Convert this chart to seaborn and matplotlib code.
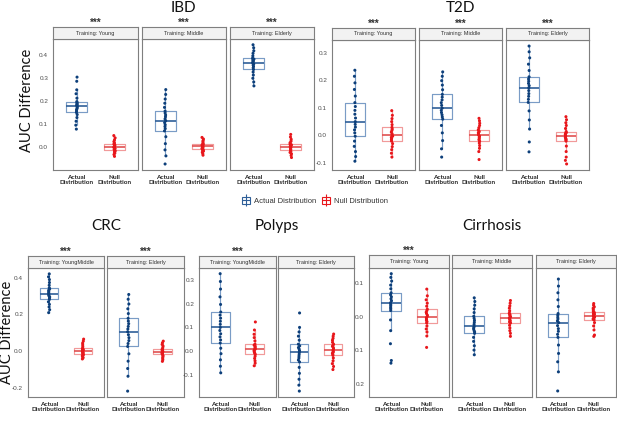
import pandas as pd
import seaborn as sns
import matplotlib.pyplot as plt
from matplotlib.patches import Patch
from matplotlib.lines import Line2D

sns.set_style("white")
plt.rcParams['font.family'] = ['Liberation Sans', 'DejaVu Sans']

# ---- data (AUC difference values) ----
ibd_young_actual = [0.078, 0.095, 0.112, 0.128, 0.141, 0.150, 0.156, 0.162, 0.167, 0.172, 0.177,
                    0.181, 0.185, 0.189, 0.193, 0.197, 0.212, 0.231, 0.248, 0.285, 0.303]
ibd_young_null = [-0.040, -0.032, -0.026, -0.021, -0.017, -0.013, -0.010, -0.007, -0.005, -0.002, 0.000,
                  0.003, 0.005, 0.008, 0.010, 0.013, 0.018, 0.024, 0.031, 0.040, 0.050]
ibd_middle_actual = [-0.073, -0.038, -0.012, 0.015, 0.045, 0.070, 0.080, 0.089, 0.097, 0.106, 0.114,
                     0.122, 0.131, 0.139, 0.148, 0.156, 0.172, 0.190, 0.208, 0.228, 0.249]
ibd_middle_null = [-0.035, -0.028, -0.022, -0.017, -0.013, -0.010, -0.007, -0.004, -0.001, 0.002, 0.004,
                   0.006, 0.008, 0.010, 0.011, 0.013, 0.018, 0.024, 0.029, 0.035, 0.042]
ibd_elderly_actual = [0.265, 0.282, 0.298, 0.312, 0.325, 0.336, 0.343, 0.349, 0.355, 0.360, 0.365,
                      0.369, 0.373, 0.377, 0.381, 0.385, 0.395, 0.406, 0.417, 0.430, 0.443]
ibd_elderly_null = [-0.045, -0.036, -0.029, -0.023, -0.018, -0.013, -0.010, -0.007, -0.004, -0.002, 0.000,
                    0.003, 0.005, 0.008, 0.010, 0.013, 0.019, 0.026, 0.034, 0.044, 0.055]

t2d_young_actual = [-0.095, -0.078, -0.060, -0.041, -0.022, -0.004, 0.008, 0.019, 0.029, 0.039, 0.049,
                    0.062, 0.076, 0.090, 0.104, 0.118, 0.142, 0.166, 0.190, 0.214, 0.236]
t2d_young_null = [-0.080, -0.066, -0.053, -0.042, -0.031, -0.022, -0.017, -0.012, -0.008, -0.004, 0.000,
                  0.005, 0.011, 0.017, 0.022, 0.028, 0.038, 0.049, 0.060, 0.072, 0.089]
t2d_middle_actual = [-0.080, -0.050, -0.020, 0.008, 0.035, 0.058, 0.066, 0.074, 0.082, 0.090, 0.098,
                     0.108, 0.118, 0.128, 0.138, 0.148, 0.165, 0.182, 0.198, 0.214, 0.230]
t2d_middle_null = [-0.089, -0.060, -0.048, -0.038, -0.029, -0.022, -0.017, -0.013, -0.008, -0.004, 0.000,
                   0.004, 0.008, 0.012, 0.015, 0.019, 0.027, 0.035, 0.043, 0.052, 0.061]
t2d_elderly_actual = [-0.061, -0.025, 0.022, 0.055, 0.088, 0.119, 0.130, 0.141, 0.151, 0.162, 0.172,
                      0.180, 0.188, 0.196, 0.204, 0.212, 0.235, 0.258, 0.281, 0.303, 0.324]
t2d_elderly_null = [-0.105, -0.092, -0.080, -0.060, -0.040, -0.022, -0.018, -0.015, -0.011, -0.008, -0.005,
                    -0.001, 0.002, 0.006, 0.009, 0.013, 0.024, 0.035, 0.045, 0.056, 0.067]

crc_youngmiddle_actual = [0.209, 0.225, 0.240, 0.254, 0.268, 0.281, 0.288, 0.294, 0.300, 0.306, 0.312,
                          0.318, 0.325, 0.331, 0.338, 0.344, 0.358, 0.373, 0.389, 0.404, 0.420]
crc_youngmiddle_null = [-0.043, -0.036, -0.030, -0.026, -0.022, -0.018, -0.014, -0.010, -0.007, -0.003, 0.000,
                        0.003, 0.006, 0.009, 0.011, 0.014, 0.023, 0.033, 0.043, 0.054, 0.065]
crc_elderly_actual = [-0.218, -0.137, -0.095, -0.055, -0.015, 0.025, 0.041, 0.057, 0.073, 0.089, 0.105,
                      0.120, 0.134, 0.149, 0.163, 0.178, 0.204, 0.230, 0.256, 0.282, 0.308]
crc_elderly_null = [-0.056, -0.047, -0.039, -0.032, -0.025, -0.018, -0.015, -0.012, -0.009, -0.007, -0.004,
                    -0.001, 0.002, 0.004, 0.007, 0.009, 0.018, 0.027, 0.036, 0.045, 0.054]

polyps_youngmiddle_actual = [-0.093, -0.065, -0.038, -0.012, 0.011, 0.033, 0.046, 0.059, 0.072, 0.086, 0.099,
                             0.112, 0.125, 0.138, 0.151, 0.164, 0.196, 0.228, 0.261, 0.293, 0.326]
polyps_youngmiddle_null = [-0.063, -0.052, -0.042, -0.032, -0.023, -0.015, -0.010, -0.006, -0.001, 0.003, 0.007,
                           0.011, 0.015, 0.020, 0.024, 0.028, 0.042, 0.056, 0.070, 0.088, 0.122]
polyps_elderly_actual = [-0.170, -0.145, -0.120, -0.095, -0.070, -0.047, -0.039, -0.030, -0.022, -0.014, -0.006,
                         0.001, 0.008, 0.014, 0.021, 0.028, 0.045, 0.062, 0.080, 0.099, 0.160]
polyps_elderly_null = [-0.079, -0.066, -0.054, -0.042, -0.030, -0.019, -0.014, -0.010, -0.005, -0.001, 0.004,
                       0.009, 0.014, 0.019, 0.023, 0.028, 0.036, 0.045, 0.053, 0.062, 0.071]

cirr_young_actual = [-0.139, -0.131, -0.081, -0.042, -0.010, 0.018, 0.023, 0.027, 0.032, 0.036, 0.041,
                     0.047, 0.053, 0.059, 0.065, 0.071, 0.083, 0.094, 0.106, 0.117, 0.128]
cirr_young_null = [-0.092, -0.058, -0.046, -0.037, -0.028, -0.019, -0.015, -0.011, -0.008, -0.004, 0.000,
                   0.004, 0.009, 0.013, 0.018, 0.022, 0.031, 0.040, 0.050, 0.062, 0.082]
cirr_middle_actual = [-0.114, -0.100, -0.087, -0.074, -0.062, -0.050, -0.046, -0.042, -0.037, -0.033, -0.029,
                      -0.023, -0.017, -0.011, -0.005, 0.001, 0.012, 0.023, 0.034, 0.045, 0.056]
cirr_middle_null = [-0.059, -0.050, -0.042, -0.034, -0.026, -0.019, -0.016, -0.013, -0.010, -0.007, -0.004,
                    -0.001, 0.002, 0.005, 0.007, 0.010, 0.017, 0.025, 0.032, 0.040, 0.048]
cirr_elderly_actual = [-0.222, -0.165, -0.135, -0.110, -0.085, -0.062, -0.053, -0.044, -0.036, -0.027, -0.018,
                       -0.013, -0.007, -0.002, 0.004, 0.009, 0.030, 0.050, 0.071, 0.091, 0.112]
cirr_elderly_null = [-0.059, -0.055, -0.040, -0.028, -0.018, -0.010, -0.008, -0.006, -0.003, -0.001, 0.001,
                     0.004, 0.007, 0.009, 0.012, 0.015, 0.020, 0.025, 0.029, 0.034, 0.039]

dist_order = ["Actual", "Null"]
dist_labels = ["Actual\nDistribution", "Null\nDistribution"]

# tick values / labels per disease
ibd_ticks = [0.0, 0.1, 0.2, 0.3, 0.4]
ibd_ticklabels = ["0.0", "0.1", "0.2", "0.3", "0.4"]
t2d_ticks = [-0.1, 0.0, 0.1, 0.2, 0.3]
t2d_ticklabels = ["-0.1", "0.0", "0.1", "0.2", "0.3"]
crc_ticks = [-0.2, 0.0, 0.2, 0.4]
crc_ticklabels = ["-0.2", "0.0", "0.2", "0.4"]
polyps_ticks = [-0.1, 0.0, 0.1, 0.2, 0.3]
polyps_ticklabels = ["-0.1", "0.0", "0.1", "0.2", "0.3"]
cirr_ticks = [-0.2, -0.1, 0.0, 0.1]
cirr_ticklabels = ["0.2", "0.1", "0.0", "0.1"]

W, H = 617, 423
BLUE_BOX, BLUE_MED, BLUE_PT = "#7a9cc6", "#2f5f98", "#0d3f7a"
RED_BOX, RED_MED, RED_PT = "#f19a9a", "#e05050", "#e8161b"

fig = plt.figure(figsize=(W / 100, H / 100), dpi=100)


def px_axes(x0, x1, ytop, ybot):
    return fig.add_axes([x0 / W, 1 - ybot / H, (x1 - x0) / W, (ybot - ytop) / H])


def panel(x0, x1, strip_top, strip_bot, bot, actual, null, training, ylim,
          ticks=None, ticklabels=None, stars=True):
    ax = px_axes(x0, x1, strip_bot, bot)
    df = pd.DataFrame({"dist": ["Actual"] * len(actual) + ["Null"] * len(null),
                       "val": actual + null})
    for d, bc, mc in [("Actual", BLUE_BOX, BLUE_MED), ("Null", RED_BOX, RED_MED)]:
        sns.boxplot(data=df[df["dist"] == d], x="dist", y="val", order=dist_order,
                    color=bc, saturation=1, fill=False, width=0.55, showfliers=False,
                    showcaps=False, linewidth=0.85,
                    medianprops={"color": mc, "linewidth": 1.2}, ax=ax)
    sns.stripplot(data=df, x="dist", y="val", hue="dist", order=dist_order,
                  palette={"Actual": BLUE_PT, "Null": RED_PT}, jitter=0.02, size=2.2,
                  linewidth=0, legend=False, zorder=3, ax=ax)
    ax.set_xlim(-0.62, 1.62)
    ax.set_ylim(*ylim)
    ax.set_xlabel("")
    ax.set_ylabel("")
    ax.set_xticks([0, 1])
    ax.set_xticklabels(dist_labels, fontsize=4.6, fontweight="bold", color="#222222",
                       family=["Lato", "DejaVu Sans"], linespacing=1.15)
    ax.tick_params(axis="both", length=2, width=0.5, color="#555555", pad=1.5)
    if ticks is not None:
        ax.set_yticks(ticks)
        ax.set_yticklabels(ticklabels, fontsize=4.6, color="#4d4d4d")
    else:
        ax.set_yticks([])
    for s in ax.spines.values():
        s.set_color("#7f7f7f")
        s.set_linewidth(0.8)

    sax = px_axes(x0, x1, strip_top, strip_bot)
    sax.set_facecolor("#f2f2f2")
    sax.set_xticks([])
    sax.set_yticks([])
    for s in sax.spines.values():
        s.set_color("#7f7f7f")
        s.set_linewidth(0.8)
    sax.text(0.5, 0.5, "Training: " + training, ha="center", va="center",
             fontsize=4, color="#333333", transform=sax.transAxes)
    if stars:
        fig.text((x0 + x1) / 2 / W, 1 - (strip_top + 0.5) / H, "***", ha="center",
                 va="bottom", fontsize=7, fontweight="bold", color="#333333")
    return ax


# ---- top row ----
ibd_ylim = (-0.099, 0.468)
panel(53, 138, 27, 39, 170, ibd_young_actual, ibd_young_null, "Young", ibd_ylim,
      ibd_ticks, ibd_ticklabels)
panel(142, 226, 27, 39, 170, ibd_middle_actual, ibd_middle_null, "Middle", ibd_ylim)
panel(230, 314, 27, 39, 170, ibd_elderly_actual, ibd_elderly_null, "Elderly", ibd_ylim)

t2d_ylim = (-0.127, 0.346)
panel(332, 415, 28, 40, 170, t2d_young_actual, t2d_young_null, "Young", t2d_ylim,
      t2d_ticks, t2d_ticklabels)
panel(419, 502, 28, 40, 170, t2d_middle_actual, t2d_middle_null, "Middle", t2d_ylim)
panel(506, 589, 28, 40, 170, t2d_elderly_actual, t2d_elderly_null, "Elderly", t2d_ylim)

# ---- bottom row ----
crc_ylim = (-0.25, 0.452)
panel(28, 104, 256, 268, 397, crc_youngmiddle_actual, crc_youngmiddle_null, "YoungMiddle",
      crc_ylim, crc_ticks, crc_ticklabels)
panel(107, 184, 256, 268, 397, crc_elderly_actual, crc_elderly_null, "Elderly", crc_ylim)

polyps_ylim = (-0.195, 0.35)
panel(199, 276, 256, 268, 397, polyps_youngmiddle_actual, polyps_youngmiddle_null, "YoungMiddle",
      polyps_ylim, polyps_ticks, polyps_ticklabels)
panel(278, 354, 256, 268, 397, polyps_elderly_actual, polyps_elderly_null, "Elderly",
      polyps_ylim, stars=False)

cirr_ylim = (-0.24, 0.145)
panel(369, 449, 255, 268, 397, cirr_young_actual, cirr_young_null, "Young", cirr_ylim,
      cirr_ticks, cirr_ticklabels)
panel(452, 532, 255, 268, 397, cirr_middle_actual, cirr_middle_null, "Middle", cirr_ylim, stars=False)
panel(536, 616, 255, 268, 397, cirr_elderly_actual, cirr_elderly_null, "Elderly", cirr_ylim, stars=False)

# ---- titles and axis labels ----
title_font = ["Lato", "DejaVu Sans"]
for txt, x, y in [("IBD", 183, 8), ("T2D", 460, 8), ("CRC", 106, 226),
                  ("Polyps", 277, 226), ("Cirrhosis", 492, 226)]:
    fig.text(x / W, 1 - y / H, txt, ha="center", va="center", fontsize=11,
             color="#111111", family=title_font)

fig.text(27 / W, 1 - 100 / H, "AUC Difference", rotation=90, ha="center", va="center",
         fontsize=10.5, color="#111111", family=title_font)
fig.text(7 / W, 1 - 332 / H, "AUC Difference", rotation=90, ha="center", va="center",
         fontsize=10.5, color="#111111", family=title_font)

# ---- legend ----
handles = [(Patch(facecolor="white", edgecolor=BLUE_MED, linewidth=0.8),
            Line2D([], [], color=BLUE_MED, linewidth=0.8, marker="|", markersize=9,
                   markeredgewidth=0.8)),
           (Patch(facecolor="white", edgecolor=RED_PT, linewidth=0.8),
            Line2D([], [], color=RED_PT, linewidth=0.8, marker="|", markersize=9,
                   markeredgewidth=0.8))]
fig.legend(handles, ["Actual Distribution", "Null Distribution"], ncol=2, loc="center",
           bbox_to_anchor=(315 / W, 1 - 201 / H), frameon=False, fontsize=5.5,
           handlelength=1.0, handleheight=1.0, columnspacing=0.8, handletextpad=0.5,
           labelcolor="#333333")

fig.savefig("out.png", dpi=100)
